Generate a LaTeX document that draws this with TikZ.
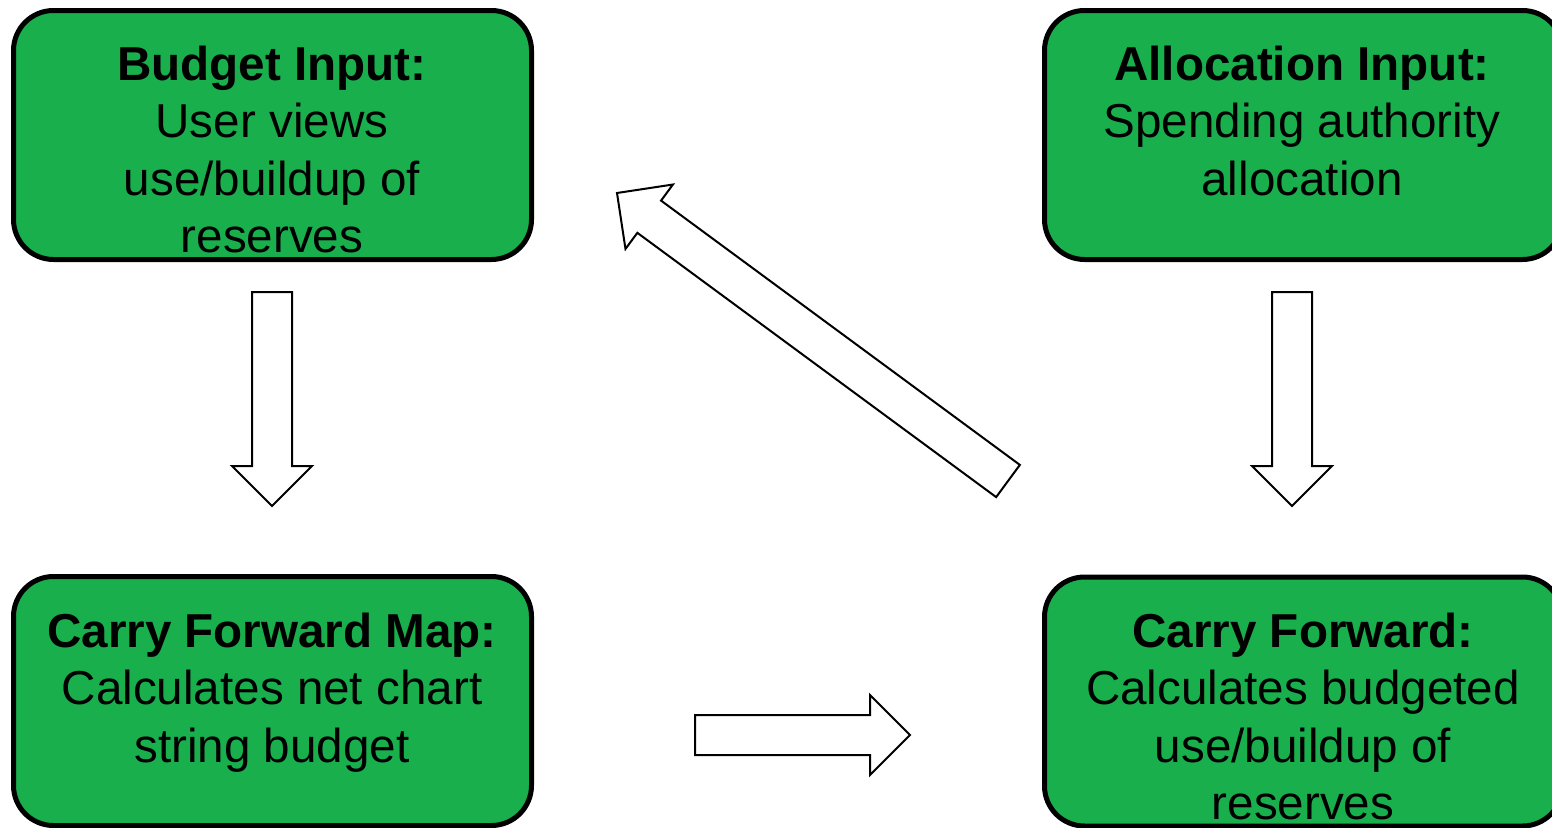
\documentclass[tikz,border=0pt]{standalone}
\usepackage{fontspec}
\setmainfont{Liberation Sans}
\usetikzlibrary{calc}
\definecolor{boxgreen}{RGB}{26,175,77}
\tikzset{
  gbox/.style={draw=black, line width=5pt, fill=boxgreen, rounded corners=40pt,
    minimum width=518pt, minimum height=249pt, inner sep=0pt},
  boxtext/.style={anchor=north, align=center, inner sep=0pt,
    font=\fontsize{47.6}{57.5}\selectfont},
  blockarr/.style={draw=black, line width=2pt, fill=white, line join=miter},
}
\newcommand\blockarrow[2]{%
  \coordinate (ba-h) at ($(#2)!40pt!(#1)$);
  \draw[blockarr] ($(#1)!20pt!90:(#2)$) -- ($(ba-h)!20pt!90:(#2)$)
    -- ($(ba-h)!40pt!90:(#2)$) -- (#2) -- ($(ba-h)!40pt!-90:(#2)$)
    -- ($(ba-h)!20pt!-90:(#2)$) -- ($(#1)!20pt!-90:(#2)$) -- cycle;}
\begin{document}
\begin{tikzpicture}[x=1pt,y=-1pt]
\useasboundingbox (0,0) rectangle (1552,827);
\clip (0,0) rectangle (1552,827);
% boxes
\node[gbox] (bi) at (272.5,135) {};
\node[gbox] (ai) at (1303.5,135) {};
\node[gbox] (cfm) at (272.5,701) {};
\node[gbox] (cf) at (1303.5,701.5) {};
% texts
\node[boxtext] (bit) at (272,39.75) {\strut\textbf{Budget Input:}\\User views\\use/buildup of\\reserves};
\node[boxtext] (ait) at (1302,39.75) {\strut\textbf{Allocation Input:}\\Spending authority\\allocation};
\node[boxtext] (cfmt) at (272,606.75) {\strut\textbf{Carry Forward Map:}\\Calculates net chart\\string budget};
\node[boxtext] (cft) at (1303,606.75) {\strut\textbf{Carry Forward:}\\Calculates budgeted\\use/buildup of\\reserves};
% arrows
\coordinate (a1s) at (272,292);  \coordinate (a1e) at (272,506);
\coordinate (a2s) at (1292,292); \coordinate (a2e) at (1292,506);
\coordinate (a3s) at (695,735);  \coordinate (a3e) at (910,735);
\coordinate (a4s) at (1008,481); \coordinate (a4e) at (617,193);
\blockarrow{a1s}{a1e}
\blockarrow{a2s}{a2e}
\blockarrow{a3s}{a3e}
\blockarrow{a4s}{a4e}
\end{tikzpicture}
\end{document}
